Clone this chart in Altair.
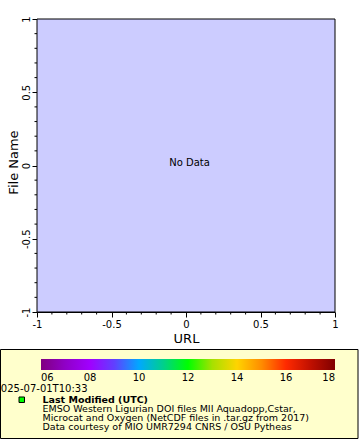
import altair as alt
import pandas as pd

FONT = "DejaVu Sans"

# ---- data ----
x_domain = [-1, 1]
y_domain = [-1, 1]
major_ticks = [-1, -0.5, 0, 0.5, 1]
minor_ticks = [-0.9, -0.8, -0.7, -0.6, -0.4, -0.3, -0.2, -0.1,
               0.1, 0.2, 0.3, 0.4, 0.6, 0.7, 0.8, 0.9]
cbar_ticks = [6, 8, 10, 12, 14, 16, 18]
cbar_stops = [6, 7, 8, 9, 10, 11, 12, 13, 14, 15, 16, 17, 18]
cbar_colors = ["#800080", "#9000c8", "#a000ff", "#6040ff", "#00a8ff", "#00d08a",
               "#00ff00", "#a8e000", "#ffd400", "#ff8c00", "#ff2a00", "#c01000", "#800000"]
no_data_msg = ["No Data"]
time_label = ["2025-07-01T10:33"]
legend_title = ["Last Modified (UTC)"]
legend_lines = ["EMSO Western Ligurian DOI files MII Aquadopp,Cstar,",
                "Microcat and Oxygen (NetCDF files in .tar.gz from 2017)",
                "Data courtesy of MIO UMR7294 CNRS / OSU Pytheas"]

W, H = 298, 293

xs = alt.Scale(domain=x_domain, nice=False, zero=False)
ys = alt.Scale(domain=y_domain, nice=False, zero=False)

# plot-area background spanning the axis domains
bg = alt.Chart(pd.DataFrame({"x0": [x_domain[0]], "x1": [x_domain[1]],
                             "y0": [y_domain[0]], "y1": [y_domain[1]]})).mark_rect(
    fill="#ccccff", stroke="black", strokeWidth=1
).encode(x=alt.X("x0:Q", scale=xs), x2="x1:Q", y=alt.Y("y0:Q", scale=ys), y2="y1:Q")

# "No Data" message at the plot centre (also defines the axes)
msg = alt.Chart(pd.DataFrame({"x": [0], "y": [0], "m": no_data_msg})).mark_text(
    font=FONT, fontSize=10, color="black", dx=3.5, baseline="alphabetic"
).encode(
    x=alt.X("x:Q", scale=xs, title="URL",
            axis=alt.Axis(values=major_ticks, tickSize=5, labelPadding=2,
                          labelExpr="datum.value + ''",
                          labelFlush=False, labelOverlap=False,
                          titleY=30, titleBaseline="alphabetic")),
    y=alt.Y("y:Q", scale=ys, title="File Name",
            axis=alt.Axis(values=major_ticks, tickSize=5, labelPadding=1,
                          labelExpr="datum.value + ''",
                          labelAngle=270, labelAlign="center", labelBaseline="bottom",
                          labelFlush=False, labelOverlap=False,
                          titleX=-24, titleY=143, titleBaseline="middle")),
    text="m:N",
)

minor_x = alt.Chart(pd.DataFrame({"v": minor_ticks})).mark_rule(color="black", strokeWidth=1).encode(
    x=alt.X("v:Q", scale=xs), y=alt.value(H), y2=alt.value(H + 2.5))
minor_y = alt.Chart(pd.DataFrame({"v": minor_ticks})).mark_rule(color="black", strokeWidth=1).encode(
    y=alt.Y("v:Q", scale=ys), x=alt.value(0), x2=alt.value(-2.5))

one = pd.DataFrame({"k": [0]})

box = alt.Chart(one).mark_rect(fill="#ffffcc", stroke="black", strokeWidth=1).encode(
    x=alt.value(-36.5), x2=alt.value(321), y=alt.value(330.5), y2=alt.value(419.5))

cbar = alt.Chart(pd.DataFrame({"t": cbar_ticks})).mark_point(opacity=0).encode(
    color=alt.Color("t:Q",
                    scale=alt.Scale(type="linear", domain=cbar_stops, range=cbar_colors),
                    legend=alt.Legend(orient="none", legendX=4, legendY=340,
                                      direction="horizontal", gradientLength=294,
                                      gradientThickness=11, gradientStrokeWidth=0,
                                      values=cbar_ticks, format="02d", title=None,
                                      labelFont=FONT, labelFontSize=10, labelColor="black",
                                      labelAlign="center", labelOverlap=False,
                                      labelOffset=3, padding=0)))

tlab = alt.Chart(pd.DataFrame({"s": time_label})).mark_text(
    font=FONT, fontSize=10, color="black", align="center", baseline="alphabetic").encode(
    x=alt.value(4), y=alt.value(373), text="s:N")

sq = alt.Chart(one).mark_rect(fill="#00ff00", stroke="black", strokeWidth=1).encode(
    x=alt.value(-18), x2=alt.value(-12.5), y=alt.value(378), y2=alt.value(383.5))

ttl = alt.Chart(pd.DataFrame({"s": legend_title})).mark_text(
    font=FONT, fontSize=9.5, fontWeight="bold", color="black", align="left",
    baseline="alphabetic").encode(x=alt.value(5.5), y=alt.value(383.5), text="s:N")

line_layers = []
for i, s in enumerate(legend_lines):
    line_layers.append(
        alt.Chart(pd.DataFrame({"s": [s]})).mark_text(
            font=FONT, fontSize=9.5, color="black", align="left", baseline="alphabetic"
        ).encode(x=alt.value(5.5), y=alt.value(392.5 + 9 * i), text="s:N"))

chart = alt.layer(box, bg, minor_x, minor_y, msg, cbar, tlab, sq, ttl, *line_layers).properties(
    width=W, height=H,
    autosize=alt.AutoSizeParams(type="none"),
    padding={"left": 37, "top": 19, "right": 25, "bottom": 128},
    background="white",
).configure_view(
    stroke=None
).configure_axis(
    grid=False, domainColor="black", tickColor="black", labelColor="black",
    titleColor="black", labelFont=FONT, labelFontSize=10, titleFont=FONT,
    titleFontSize=13, titleFontWeight="normal", domainWidth=1, tickWidth=1
).configure_text(font=FONT)

chart.save("out.html", embed_options={"renderer": "svg", "actions": False})
